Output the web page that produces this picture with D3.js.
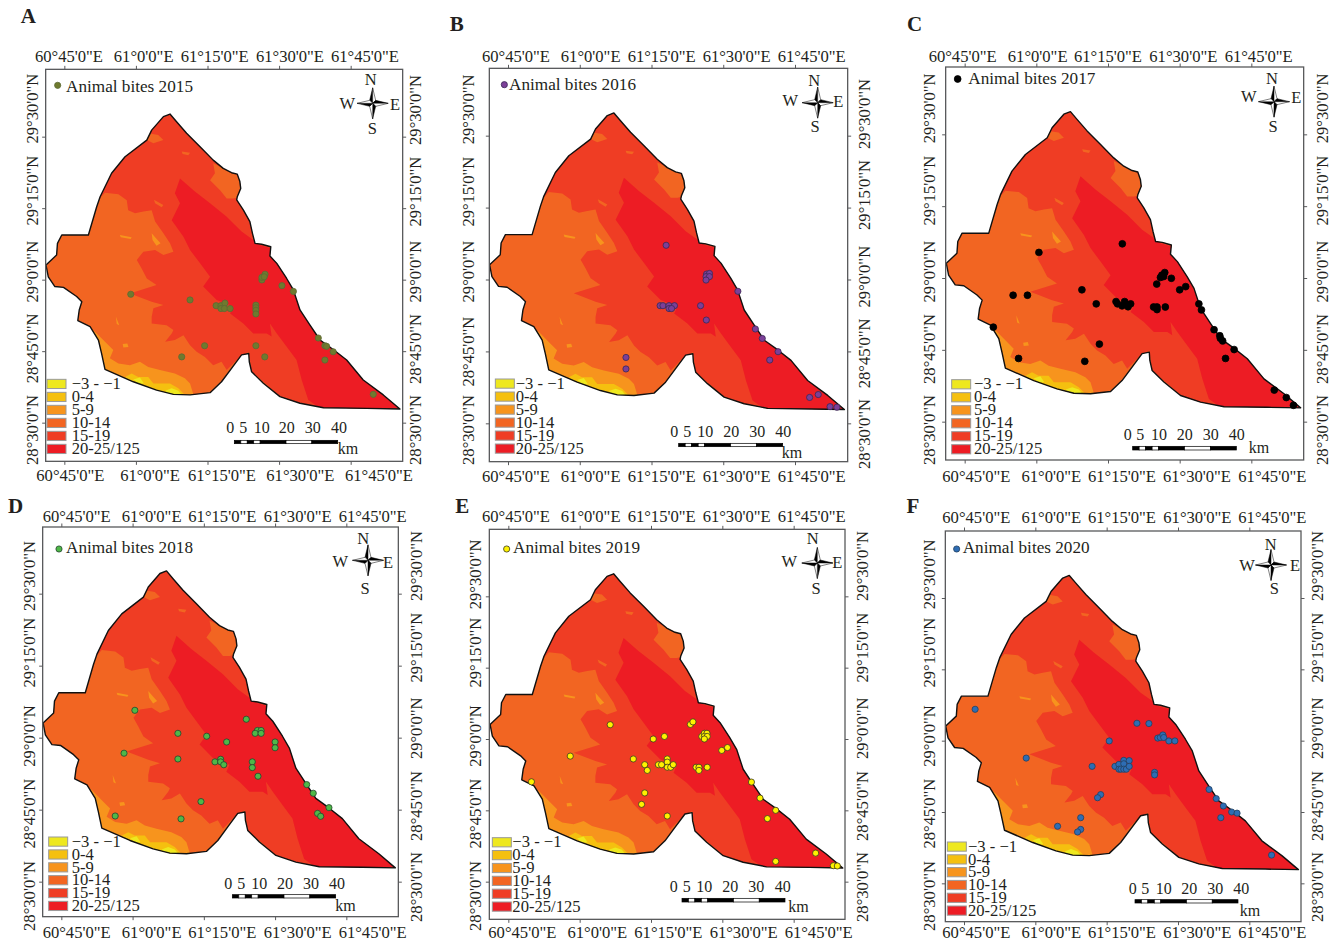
<!DOCTYPE html>
<html>
<head>
<meta charset="utf-8">
<title>Animal bites 2015-2020</title>
<script src="https://cdn.jsdelivr.net/npm/d3@7"></script>
<style>
  html, body { margin: 0; padding: 0; background: #fff; }
  svg { display: block; }
  text { font-family: "Liberation Serif", serif; fill: #231f20; }
</style>
</head>
<body>
<svg width="1337" height="941"></svg>
<script>
// values: everything on the map is lon / lat in degrees
const lonTicks = [60.75, 61, 61.25, 61.5, 61.75];
const latTicks = [29.5, 29.25, 29, 28.75, 28.5];
const lonLabels = ["60°45'0\"E", "61°0'0\"E", "61°15'0\"E", "61°30'0\"E", "61°45'0\"E"];
const latLabels = ["29°30'0\"N", "29°15'0\"N", "29°0'0\"N", "28°45'0\"N", "28°30'0\"N"];

const classLabels = ["\u22123 - \u22121", "0-4", "5-9", "10-14", "15-19", "20-25/125"];
const classColors = ["#eee81f", "#f5c00f", "#f7941d", "#f26522", "#ef3d24", "#ed1c24"];

const kmTicks = [0, 5, 10, 20, 30, 40];
const kmSegments = [0, 2.5, 5, 7.5, 10, 20, 30, 40];

const boundary = [[61.119,29.579],[61.142,29.552],[61.177,29.512],[61.224,29.465],[61.270,29.418],[61.305,29.389],[61.334,29.374],[61.354,29.369],[61.363,29.343],[61.366,29.319],[61.354,29.290],[61.352,29.279],[61.375,29.244],[61.398,29.203],[61.407,29.162],[61.416,29.127],[61.439,29.124],[61.471,29.115],[61.468,29.083],[61.492,29.057],[61.526,29.005],[61.550,28.964],[61.573,28.894],[61.608,28.841],[61.643,28.789],[61.689,28.756],[61.736,28.719],[61.794,28.649],[61.864,28.597],[61.922,28.548],[61.806,28.550],[61.655,28.552],[61.573,28.568],[61.503,28.591],[61.445,28.638],[61.404,28.678],[61.396,28.713],[61.394,28.742],[61.369,28.737],[61.334,28.690],[61.299,28.643],[61.259,28.605],[61.189,28.597],[61.131,28.599],[61.072,28.614],[60.991,28.643],[60.892,28.686],[60.880,28.742],[60.869,28.789],[60.840,28.836],[60.797,28.857],[60.802,28.894],[60.811,28.923],[60.793,28.941],[60.747,28.973],[60.717,28.976],[60.694,29.010],[60.686,29.051],[60.723,29.086],[60.726,29.127],[60.741,29.156],[60.834,29.156],[60.863,29.255],[60.875,29.290],[60.915,29.372],[60.962,29.430],[61.038,29.488],[61.055,29.523],[61.096,29.570]];

// class zones, [class index, ring], painted in order and clipped to the boundary
const zone15 = [[60.869,29.279],[60.892,29.304],[60.939,29.299],[60.968,29.278],[60.973,29.243],[60.997,29.232],[61.026,29.238],[61.055,29.243],[61.067,29.203],[61.096,29.162],[61.119,29.127],[61.131,29.098],[61.096,29.086],[61.067,29.104],[61.026,29.098],[61.003,29.069],[61.020,29.039],[61.038,29.004],[61.072,28.981],[60.979,28.952],[61.055,28.923],[61.096,28.911],[61.061,28.900],[61.055,28.870],[61.055,28.847],[61.107,28.841],[61.131,28.824],[61.125,28.812],[61.102,28.783],[61.136,28.789],[61.166,28.806],[61.189,28.771],[61.212,28.748],[61.241,28.730],[61.270,28.701],[61.299,28.713],[61.317,28.684],[61.358,28.725],[61.394,28.748],[61.404,28.678],[61.573,28.532],[61.934,28.532],[61.934,29.395],[61.131,29.628],[60.851,29.395]];
const zone20 = [[61.154,29.354],[61.206,29.308],[61.259,29.267],[61.317,29.220],[61.369,29.168],[61.410,29.139],[61.433,29.121],[61.471,29.110],[61.503,29.057],[61.573,28.906],[61.643,28.801],[61.736,28.731],[61.818,28.661],[61.934,28.539],[61.643,28.539],[61.643,28.550],[61.602,28.579],[61.579,28.649],[61.561,28.719],[61.526,28.766],[61.492,28.812],[61.468,28.847],[61.474,28.801],[61.457,28.812],[61.410,28.812],[61.375,28.847],[61.329,28.882],[61.340,28.906],[61.282,28.929],[61.235,28.976],[61.259,29.010],[61.224,29.057],[61.189,29.104],[61.166,29.150],[61.125,29.208],[61.154,29.267],[61.136,29.302]];
const patchNorthEast = [[61.270,29.407],[61.294,29.395],[61.346,29.372],[61.375,29.337],[61.369,29.290],[61.340,29.284],[61.317,29.284],[61.294,29.313],[61.259,29.348],[61.276,29.372]];
const patchApex = [[61.043,29.512],[61.078,29.506],[61.096,29.488],[61.061,29.477],[61.038,29.488]];
const patchSpot1 = [[61.160,29.448],[61.189,29.444],[61.183,29.435],[61.163,29.439]];
const patchSpot2 = [[61.063,29.279],[61.096,29.261],[61.090,29.253],[61.067,29.267]];
const zone5 = [[60.840,28.830],[60.857,28.818],[60.892,28.783],[60.921,28.754],[60.909,28.725],[60.939,28.707],[60.979,28.701],[61.014,28.713],[61.043,28.695],[61.084,28.684],[61.136,28.672],[61.171,28.655],[61.189,28.637],[61.203,28.591],[60.875,28.591],[60.863,28.696]];
const streak1 = [[61.055,29.162],[61.067,29.148],[61.086,29.127],[61.072,29.119],[61.058,29.139]];
const streak2 = [[60.944,29.156],[60.985,29.148],[60.982,29.142],[60.947,29.148]];
const streak3 = [[60.930,28.870],[60.942,28.841],[60.933,28.845]];
const streak4 = [[60.954,28.775],[60.970,28.777],[60.974,28.765],[60.956,28.763]];
const zone0 = [[60.962,28.660],[60.985,28.672],[61.008,28.660],[61.043,28.660],[61.061,28.637],[61.090,28.637],[61.119,28.637],[61.148,28.620],[61.177,28.591],[61.119,28.591],[61.061,28.614],[60.991,28.637]];
const zoneMinus = [[61.102,28.612],[61.125,28.620],[61.148,28.612],[61.165,28.591],[61.119,28.591]];
const zoneMinus2 = [[60.991,28.651],[61.014,28.658],[61.028,28.637],[61.008,28.637]];

const zones = [[4, zone15], [5, zone20], [3, patchNorthEast], [3, patchApex], [3, patchSpot1], [3, patchSpot2], [2, zone5], [2, streak1], [2, streak2], [2, streak3], [2, streak4], [1, zone0], [0, zoneMinus], [0, zoneMinus2]];

// bite locations per year
const bites2015 = [[60.982,28.949],[61.189,28.929],[61.280,28.909],[61.297,28.909],[61.311,28.918],[61.297,28.899],[61.309,28.899],[61.329,28.899],[61.419,28.911],[61.419,28.902],[61.419,28.893],[61.419,28.880],[61.440,28.999],[61.440,29.008],[61.451,29.019],[61.448,29.010],[61.510,28.979],[61.550,28.959],[61.637,28.796],[61.660,28.769],[61.666,28.767],[61.689,28.748],[61.660,28.719],[61.450,28.730],[61.419,28.769],[61.240,28.769],[61.160,28.730],[61.829,28.599]];
const bites2016 = [[61.301,29.119],[61.442,29.019],[61.452,29.021],[61.440,29.010],[61.452,29.010],[61.440,28.998],[61.551,28.959],[61.280,28.909],[61.290,28.909],[61.311,28.909],[61.330,28.909],[61.311,28.899],[61.320,28.899],[61.421,28.909],[61.441,28.859],[61.612,28.828],[61.636,28.795],[61.691,28.749],[61.662,28.720],[61.161,28.729],[61.161,28.689],[61.801,28.590],[61.831,28.600],[61.872,28.558],[61.896,28.556]];
const bites2017 = [[61.009,29.089],[61.300,29.119],[61.438,29.010],[61.448,29.019],[61.433,29.002],[61.444,29.005],[61.471,28.999],[61.420,28.979],[61.521,28.970],[61.500,28.959],[61.159,28.959],[60.919,28.940],[60.969,28.940],[61.209,28.910],[61.278,28.918],[61.283,28.910],[61.299,28.903],[61.308,28.918],[61.320,28.900],[61.329,28.910],[61.409,28.899],[61.421,28.899],[61.421,28.890],[61.450,28.899],[61.567,28.910],[61.576,28.889],[61.620,28.820],[61.640,28.799],[61.642,28.790],[61.650,28.781],[61.690,28.751],[61.660,28.720],[61.220,28.770],[61.169,28.710],[60.938,28.720],[60.850,28.829],[61.830,28.610],[61.872,28.584],[61.897,28.557]];
const bites2018 = [[61.008,29.095],[61.159,29.015],[61.260,29.005],[61.330,28.985],[61.399,29.064],[61.438,29.025],[61.451,29.025],[61.430,29.015],[61.451,29.015],[61.500,28.985],[61.500,28.965],[60.970,28.946],[61.159,28.926],[61.289,28.916],[61.309,28.925],[61.309,28.916],[61.320,28.906],[61.420,28.916],[61.420,28.896],[61.440,28.866],[61.611,28.837],[61.634,28.807],[61.689,28.757],[61.649,28.737],[61.660,28.727],[61.240,28.778],[61.170,28.718],[60.939,28.728]];
const bites2019 = [[61.107,29.050],[61.258,29.000],[61.297,29.009],[61.388,29.051],[61.397,29.060],[61.428,29.009],[61.437,29.020],[61.446,29.020],[61.437,29.009],[61.447,29.009],[61.437,29.000],[61.498,28.960],[61.518,28.970],[60.967,28.940],[61.188,28.930],[61.228,28.910],[61.237,28.890],[61.276,28.910],[61.287,28.910],[61.307,28.930],[61.307,28.919],[61.307,28.901],[61.319,28.901],[61.328,28.910],[61.408,28.901],[61.418,28.901],[61.418,28.890],[61.447,28.901],[60.831,28.850],[61.602,28.849],[61.632,28.793],[61.687,28.750],[61.658,28.721],[61.228,28.811],[61.217,28.771],[61.307,28.730],[61.827,28.600],[61.687,28.571],[61.889,28.556],[61.903,28.555]];
const bites2020 = [[60.789,29.110],[60.968,28.939],[61.356,29.061],[61.398,29.060],[61.259,28.999],[61.429,29.009],[61.438,29.011],[61.447,29.020],[61.450,29.011],[61.468,28.999],[61.489,28.999],[61.199,28.910],[61.279,28.910],[61.293,28.917],[61.293,28.900],[61.310,28.931],[61.310,28.919],[61.300,28.900],[61.310,28.900],[61.319,28.900],[61.329,28.930],[61.329,28.910],[61.418,28.889],[61.418,28.880],[61.609,28.829],[61.634,28.797],[61.659,28.771],[61.688,28.750],[61.707,28.746],[61.650,28.730],[61.229,28.811],[61.218,28.800],[61.159,28.730],[61.078,28.700],[61.159,28.689],[61.148,28.680],[61.828,28.599]];

// layout of every panel, measured on a 3x crop whose corner is (ox, oy)
const panels = [
  { letter: "A", year: 2015, bites: bites2015, fill: "#6f7a2e", stroke: "#5c6a35", r: 3.1, ox: 0, oy: 0,
    frame: [137, 208, 1208, 1384], lonAt: [193, 1052], latAt: [410, 1268], letterAt: [85, 68],
    topX: [207, 431, 644, 870, 1095], topY: 185, bottomX: [211, 450, 666, 901, 1137], bottomY: 1443,
    leftX: 97, leftY: [326, 572, 815, 1045, 1290], rightX: 1245, rightY: [330, 575, 815, 1047, 1290],
    keyAt: [173, 256, 198, 275], swatch: [141, 1138, 215], swatchStep: 39,
    star: [1118, 310], starN: [1112, 238], starW: [1042, 310], starE: [1185, 312], starS: [1117, 385],
    bar: [703, 1013, 1321, 1331], kmX: [691, 730, 785, 860, 938, 1017], kmY: 1300, kmLabel: [1013, 1362] },
  { letter: "B", year: 2016, bites: bites2016, fill: "#7c3f98", stroke: "#3a2a55", r: 3.1, ox: 445, oy: 0,
    frame: [133, 205, 1208, 1385], lonAt: [189, 1050], latAt: [407, 1270], letterAt: [35, 92],
    topX: [213, 437, 650, 875, 1100], topY: 185, bottomX: [213, 437, 650, 875, 1100], bottomY: 1446,
    leftX: 70, leftY: [328, 575, 815, 1055, 1290], rightX: 1258, rightY: [342, 585, 830, 1060, 1302],
    keyAt: [178, 254, 192, 270], swatch: [151, 1137, 212], swatchStep: 39,
    star: [1118, 308], starN: [1108, 240], starW: [1036, 302], starE: [1180, 304], starS: [1110, 380],
    bar: [701, 1013, 1330, 1340], kmX: [688, 727, 781, 859, 937, 1015], kmY: 1312, kmLabel: [1010, 1375] },
  { letter: "C", year: 2017, bites: bites2017, fill: "#000000", stroke: "#000000", r: 3.4, ox: 892, oy: 0,
    frame: [161, 201, 1235, 1380], lonAt: [218, 1078], latAt: [403, 1265], letterAt: [68, 92],
    topX: [212, 437, 648, 874, 1100], topY: 185, bottomX: [253, 478, 690, 915, 1141], bottomY: 1446,
    leftX: 112, leftY: [325, 572, 815, 1047, 1290], rightX: 1290, rightY: [325, 572, 815, 1047, 1290],
    keyAt: [197, 237, 229, 252], swatch: [179, 1139, 246], swatchStep: 39,
    star: [1146, 305], starN: [1140, 235], starW: [1070, 290], starE: [1213, 292], starS: [1143, 380],
    bar: [722, 1033, 1339, 1350], kmX: [707, 745, 801, 878, 956, 1034], kmY: 1320, kmLabel: [1070, 1360] },
  { letter: "D", year: 2018, bites: bites2018, fill: "#4fb848", stroke: "#24452e", r: 3.1, ox: 0, oy: 471,
    frame: [128, 168, 1195, 1337], lonAt: [184, 1039], latAt: [368, 1232], letterAt: [47, 127],
    topX: [230, 455, 667, 893, 1118], topY: 152, bottomX: [230, 455, 667, 893, 1118], bottomY: 1402,
    leftX: 87, leftY: [315, 545, 795, 1028, 1275], rightX: 1250, rightY: [285, 530, 772, 1005, 1248],
    keyAt: [177, 234, 198, 246], swatch: [146, 1098, 215], swatchStep: 38.6,
    star: [1104, 268], starN: [1090, 202], starW: [1021, 272], starE: [1164, 274], starS: [1095, 352],
    bar: [697, 1007, 1271, 1281], kmX: [685, 724, 778, 855, 933, 1011], kmY: 1253, kmLabel: [1006, 1320] },
  { letter: "E", year: 2019, bites: bites2019, fill: "#fff200", stroke: "#3a3a20", r: 3.1, ox: 445, oy: 471,
    frame: [133, 175, 1200, 1345], lonAt: [190, 1046], latAt: [376, 1232], letterAt: [52, 127],
    topX: [213, 437, 650, 875, 1100], topY: 152, bottomX: [232, 457, 670, 896, 1121], bottomY: 1402,
    leftX: 90, leftY: [310, 545, 795, 1028, 1275], rightX: 1252, rightY: [285, 530, 772, 1005, 1248],
    keyAt: [185, 234, 204, 246], swatch: [142, 1100, 202], swatchStep: 38.6,
    star: [1117, 276], starN: [1103, 202], starW: [1033, 272], starE: [1177, 274], starS: [1113, 352],
    bar: [711, 1020, 1282, 1293], kmX: [686, 725, 778, 856, 934, 1013], kmY: 1262, kmLabel: [1030, 1322] },
  { letter: "F", year: 2020, bites: bites2020, fill: "#2e6db4", stroke: "#22405f", r: 3.1, ox: 892, oy: 471,
    frame: [160, 180, 1227, 1352], lonAt: [216, 1072], latAt: [381, 1237], letterAt: [63, 127],
    topX: [253, 478, 690, 916, 1141], topY: 157, bottomX: [253, 478, 690, 916, 1141], bottomY: 1402,
    leftX: 112, leftY: [310, 545, 795, 1028, 1275], rightX: 1275, rightY: [285, 530, 772, 1005, 1248],
    keyAt: [194, 234, 212, 246], swatch: [166, 1113, 228], swatchStep: 38.4,
    star: [1137, 282], starN: [1136, 220], starW: [1065, 282], starE: [1209, 284], starS: [1147, 352],
    bar: [729, 1038, 1286, 1296], kmX: [722, 760, 815, 892, 970, 1048], kmY: 1268, kmLabel: [1043, 1334] }
];

const svg = d3.select("svg");
const labelSize = 16.6;

panels.forEach((p, pi) => {
  const px = v => p.ox + v / 3;
  const py = v => p.oy + v / 3;
  const g = svg.append("g");

  const x = d3.scaleLinear().domain([60.75, 61.75]).range(p.lonAt.map(px));
  const y = d3.scaleLinear().domain([29.5, 28.5]).range(p.latAt.map(py));
  const ring = d3.line().x(d => x(d[0])).y(d => y(d[1]));
  const left = px(p.frame[0]), top = py(p.frame[1]), right = px(p.frame[2]), bottom = py(p.frame[3]);

  // map
  g.append("clipPath").attr("id", "clip" + pi)
    .append("path").attr("d", ring(boundary) + "Z");
  g.append("path").attr("d", ring(boundary) + "Z").attr("fill", classColors[3]);
  g.append("g").attr("clip-path", `url(#clip${pi})`)
    .selectAll("path").data(zones).enter().append("path")
    .attr("d", d => ring(d[1]) + "Z")
    .attr("fill", d => classColors[d[0]]);
  g.append("path").attr("d", ring(boundary) + "Z")
    .attr("fill", "none").attr("stroke", "#111").attr("stroke-width", 1.4).attr("stroke-linejoin", "round");

  // frame and ticks
  g.append("rect")
    .attr("x", left).attr("y", top).attr("width", right - left).attr("height", bottom - top)
    .attr("fill", "none").attr("stroke", "#58595b").attr("stroke-width", 1.3);
  const axes = [
    [d3.axisTop(x).tickValues(lonTicks), 0, top],
    [d3.axisBottom(x).tickValues(lonTicks), 0, bottom],
    [d3.axisLeft(y).tickValues(latTicks), left, 0],
    [d3.axisRight(y).tickValues(latTicks), right, 0]
  ];
  axes.forEach(a => {
    const ag = g.append("g").attr("transform", `translate(${a[1]},${a[2]})`)
      .call(a[0].tickSize(3.5).tickFormat(""));
    ag.select(".domain").remove();
    ag.selectAll("line").attr("stroke", "#58595b");
  });

  // coordinate labels
  lonLabels.forEach((t, i) => {
    g.append("text").attr("x", px(p.topX[i])).attr("y", py(p.topY))
      .attr("text-anchor", "middle").attr("font-size", labelSize).text(t);
    g.append("text").attr("x", px(p.bottomX[i])).attr("y", py(p.bottomY))
      .attr("text-anchor", "middle").attr("font-size", labelSize).text(t);
  });
  latLabels.forEach((t, i) => {
    [[p.leftX, p.leftY[i]], [p.rightX, p.rightY[i]]].forEach(c => {
      g.append("text")
        .attr("transform", `translate(${px(c[0])},${py(c[1])}) rotate(-90)`)
        .attr("text-anchor", "middle").attr("dy", "0.35em")
        .attr("font-size", labelSize).text(t);
    });
  });

  g.append("text").attr("x", px(p.letterAt[0])).attr("y", py(p.letterAt[1]))
    .attr("text-anchor", "middle").attr("font-size", 21).attr("font-weight", "bold").text(p.letter);

  // classes key
  classLabels.forEach((t, i) => {
    const yy = py(p.swatch[1] + i * p.swatchStep);
    g.append("rect").attr("x", px(p.swatch[0])).attr("y", yy)
      .attr("width", 19).attr("height", 9.2)
      .attr("fill", classColors[i]).attr("stroke", "#9a9a9a").attr("stroke-width", 1);
    g.append("text").attr("x", px(p.swatch[2])).attr("y", yy + 9.8)
      .attr("font-size", 16.6).text(t);
  });

  // bites
  g.append("g").selectAll("circle").data(p.bites).enter().append("circle")
    .attr("cx", d => x(d[0])).attr("cy", d => y(d[1])).attr("r", p.r)
    .attr("fill", p.fill).attr("stroke", p.stroke).attr("stroke-width", 0.8);
  g.append("circle").attr("cx", px(p.keyAt[0])).attr("cy", py(p.keyAt[1])).attr("r", p.r)
    .attr("fill", p.fill).attr("stroke", p.stroke).attr("stroke-width", 0.8);
  g.append("text").attr("x", px(p.keyAt[2])).attr("y", py(p.keyAt[3]))
    .attr("font-size", 17.2).text("Animal bites " + p.year);

  // north arrow
  const star = g.append("g").attr("transform", `translate(${px(p.star[0])},${py(p.star[1])})`);
  [0, 90, 180, 270].forEach(a => {
    const arm = star.append("g").attr("transform", `rotate(${a})`);
    arm.append("path").attr("d", "M0,-15.5L-3,-3L0,0Z").attr("fill", "#000").attr("stroke", "#000").attr("stroke-width", 0.5);
    arm.append("path").attr("d", "M0,-15.5L3,-3L0,0Z").attr("fill", "#fff").attr("stroke", "#000").attr("stroke-width", 0.5);
  });
  [["N", p.starN], ["W", p.starW], ["E", p.starE], ["S", p.starS]].forEach(s => {
    g.append("text").attr("x", px(s[1][0])).attr("y", py(s[1][1]))
      .attr("text-anchor", "middle").attr("dy", "0.35em").attr("font-size", 16.5).text(s[0]);
  });

  // scale bar
  const km = d3.scaleLinear().domain([0, 40]).range([px(p.bar[0]), px(p.bar[1])]);
  d3.pairs(kmSegments).forEach((s, i) => {
    g.append("rect").attr("x", km(s[0])).attr("y", py(p.bar[2]))
      .attr("width", km(s[1]) - km(s[0])).attr("height", py(p.bar[3]) - py(p.bar[2]))
      .attr("fill", i % 2 ? "#fff" : "#000").attr("stroke", "#000").attr("stroke-width", 0.7);
  });
  kmTicks.forEach((t, i) => {
    g.append("text").attr("x", px(p.kmX[i])).attr("y", py(p.kmY))
      .attr("text-anchor", "middle").attr("font-size", 16).text(t);
  });
  g.append("text").attr("x", px(p.kmLabel[0])).attr("y", py(p.kmLabel[1]))
    .attr("font-size", 16).text("km");
});
</script>
</body>
</html>
